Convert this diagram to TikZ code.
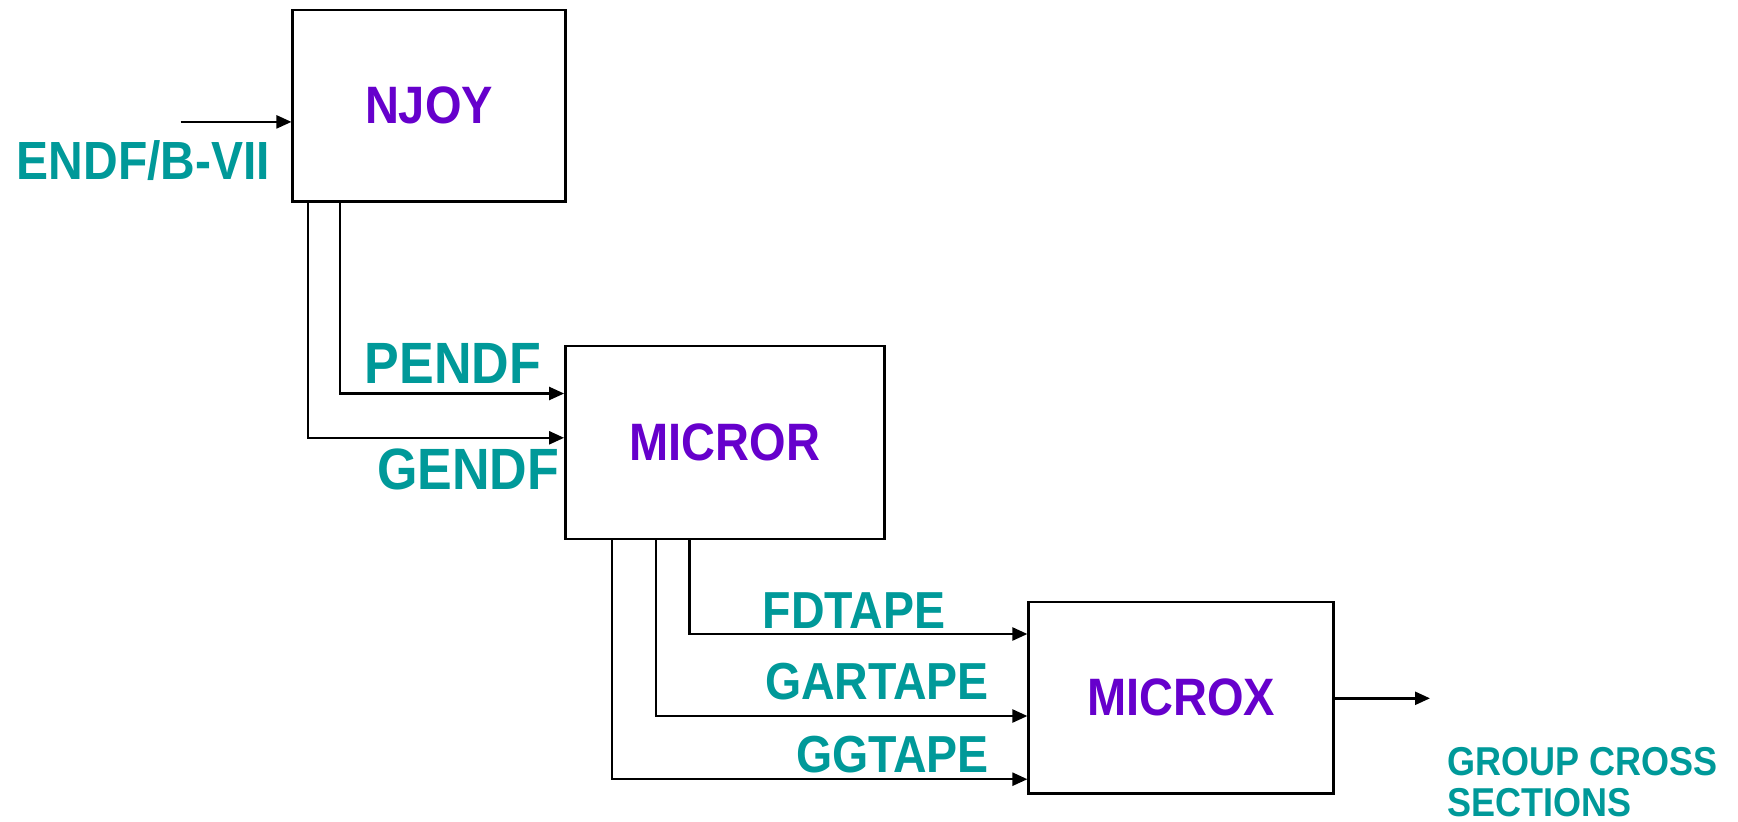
\documentclass[tikz,border=0pt]{standalone}
\usepackage{fontspec}
\setmainfont{Liberation Sans}
\usetikzlibrary{arrows.meta}
\definecolor{teal1}{HTML}{009999}
\definecolor{purp}{HTML}{6600CC}
\newcommand{\tall}[1]{\scalebox{1}[1.12]{#1}}
\tikzset{
  box/.style={draw=black, line width=2.4pt, fill=white, inner sep=0pt},
  boxlbl/.style={text=purp, font=\fontsize{47}{52}\selectfont\bfseries},
  lbl/.style={text=teal1, anchor=base west, inner sep=0pt, font=\bfseries},
  conn/.style={line width=2.4pt, -{Triangle[length=15pt,width=13pt]}},
}
\begin{document}
\begin{tikzpicture}[x=1pt,y=-1pt]
\useasboundingbox (0,0) rectangle (1738,822);
\node[box, minimum width=272.7pt, minimum height=191.7pt] (njoy) at (429,105.8) {};
\node[boxlbl] (njoyt) at (njoy.center) {\tall{NJOY}};
\node[box, minimum width=319.2pt, minimum height=192.9pt] (micror) at (724.9,442.3) {};
\node[boxlbl] (micrort) at (micror.center) {\tall{MICROR}};
\node[box, minimum width=304.8pt, minimum height=191.7pt] (microx) at (1181,697.8) {};
\node[boxlbl] (microxt) at (microx.center) {\tall{MICROX}};

\coordinate (in) at (180.7,121.9);
\coordinate (out) at (1430,698.3);

\draw[conn] (in) -- (in -| njoy.west);
\draw[conn] ([xshift=48.8pt]njoy.south west) |- ([yshift=48.8pt]micror.west);
\draw[conn] ([xshift=16.7pt]njoy.south west) |- ([yshift=4.5pt]micror.west);
\draw[conn] ([xshift=125.2pt]micror.south west) |- ([yshift=63.8pt]microx.west);
\draw[conn] ([xshift=92pt]micror.south west) |- ([yshift=-18.2pt]microx.west);
\draw[conn] ([xshift=47.7pt]micror.south west) |- ([yshift=-81.4pt]microx.west);
\draw[conn] (microx.east |- out) -- (out);

\node[lbl, font=\fontsize{48}{52}\selectfont\bfseries] (endf) at (16.6,179.6) {\tall{ENDF/B-VII}};
\node[lbl, font=\fontsize{52}{56}\selectfont\bfseries] (pendf) at (364.7,383.5) {\tall{PENDF}};
\node[lbl, font=\fontsize{52}{56}\selectfont\bfseries] (gendf) at (376.9,489.9) {\tall{GENDF}};
\node[lbl, font=\fontsize{46.5}{50}\selectfont\bfseries] (fdtape) at (762.6,628.5) {\tall{FDTAPE}};
\node[lbl, font=\fontsize{46.5}{50}\selectfont\bfseries] (gartape) at (764.8,699.4) {\tall{GARTAPE}};
\node[lbl, font=\fontsize{46.5}{50}\selectfont\bfseries] (ggtape) at (795.8,772.6) {\tall{GGTAPE}};
\node[lbl, font=\fontsize{36}{40}\selectfont\bfseries] (grp1) at (1447.6,775.9) {\tall{GROUP CROSS}};
\node[lbl, font=\fontsize{36}{40}\selectfont\bfseries] (grp2) at (1447.6,816) {\tall{SECTIONS}};
\end{tikzpicture}
\end{document}
